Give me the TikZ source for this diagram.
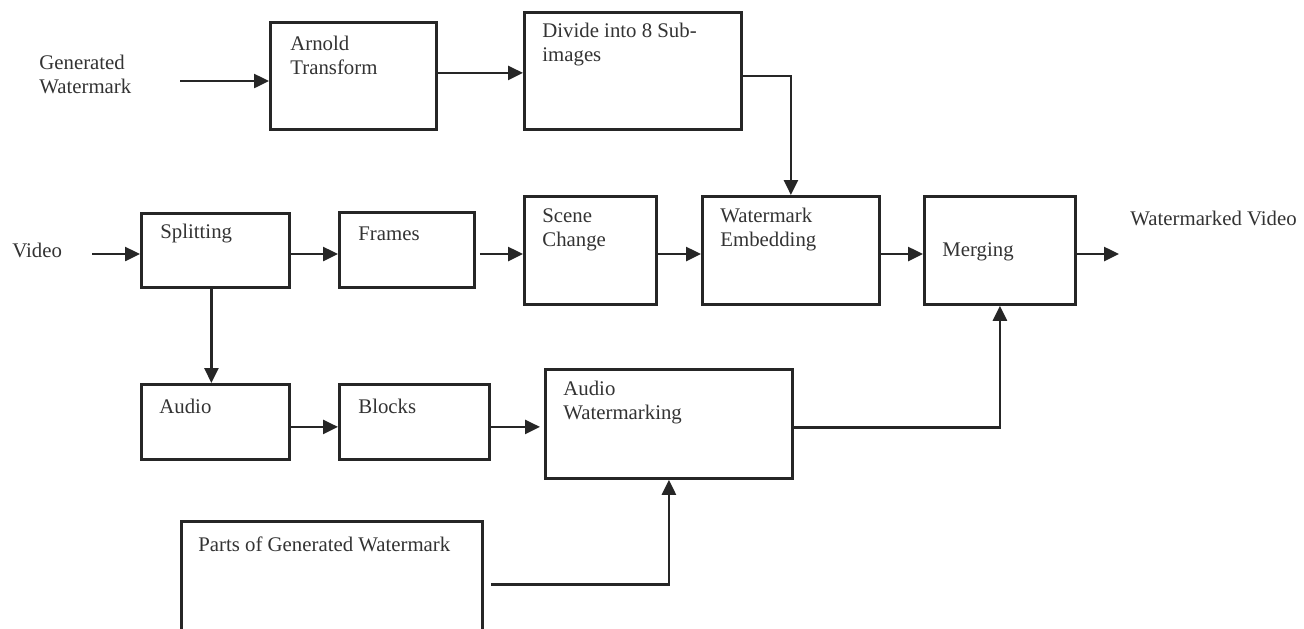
\documentclass[tikz,border=0pt]{standalone}
\usepackage{fontspec}
\setmainfont{Liberation Serif}
\usetikzlibrary{arrows.meta}
\begin{document}
\begin{tikzpicture}[x=0.5pt,y=-0.5pt,
  box/.style={draw=black!85, line width=1.4pt, inner sep=0pt, anchor=north west},
  lbl/.style={inner sep=0pt, anchor=west, align=left, text=black!80, font=\fontsize{10.4}{12}\selectfont},
  arr/.style={draw=black!85, line width=1.25pt, -{Triangle[length=7.5pt,width=7pt]}},
  ln/.style={draw=black!85, line width=1.25pt}]
\clip (0,0) rectangle (1304,628);
\fill[white] (0,0) rectangle (1304,628);

% boxes
\node[box, minimum width=83pt, minimum height=53.5pt] (arnold) at (269,21) {};
\node[box, minimum width=108.5pt, minimum height=58.5pt] (divide) at (523,11) {};
\node[box, minimum width=74pt, minimum height=37pt] (split) at (140,212) {};
\node[box, minimum width=67.5pt, minimum height=37.5pt] (frames) at (338,211) {};
\node[box, minimum width=66pt, minimum height=54pt] (scene) at (523,195) {};
\node[box, minimum width=88.5pt, minimum height=54pt] (we) at (701,195) {};
\node[box, minimum width=75.5pt, minimum height=54pt] (merge) at (923,195) {};
\node[box, minimum width=74pt, minimum height=37.5pt] (audio) at (140,383) {};
\node[box, minimum width=75pt, minimum height=37.5pt] (blocks) at (338,383) {};
\node[box, minimum width=123.5pt, minimum height=54.5pt] (aw) at (544,368) {};
\node[box, minimum width=150.5pt, minimum height=65pt] (parts) at (180,520) {};

% texts
\node[lbl] (tgw) at (39,74.5) {Generated\\Watermark};
\node[lbl] (tarnold) at (290,55) {Arnold\\Transform};
\node[lbl] (tdivide) at (542,45) {Divide into 8 Sub-\\images};
\node[lbl] (tvideo) at (12,250) {Video};
\node[lbl] (tsplit) at (160,234) {Splitting};
\node[lbl] (tframes) at (358,234) {Frames};
\node[lbl] (tscene) at (542,230) {Scene\\Change};
\node[lbl] (twe) at (720,230) {Watermark\\Embedding};
\node[lbl] (tmerge) at (942,252) {Merging};
\node[lbl] (twv) at (1130,218) {Watermarked Video};
\node[lbl] (taudio) at (159,406) {Audio};
\node[lbl] (tblocks) at (358,406) {Blocks};
\node[lbl] (taw) at (563,403) {Audio\\Watermarking};
\node[lbl] (tparts) at (198,544) {Parts of Generated Watermark};

% free ends
\coordinate (gwin) at (180,81);
\coordinate (vin) at (92,254);
\coordinate (vout) at (1119,254);

% connectors
\draw[arr] (gwin) -- (gwin -| arnold.west);
\draw[arr] ([yshift=1.5pt]arnold.east) -- ([yshift=1.5pt]arnold.east -| divide.west);
\draw[arr] ([yshift=-2.5pt]divide.east) -| (we.north);
\draw[arr] (vin) -- (vin -| split.west);
\draw[arr] (vin -| split.east) -- (vin -| frames.west);
\draw[arr] ([xshift=2pt]vin -| frames.east) -- (vin -| scene.west);
\draw[arr] (vin -| scene.east) -- (vin -| we.west);
\draw[arr] (vin -| we.east) -- (vin -| merge.west);
\draw[arr] (vin -| merge.east) -- (vout);
\draw[arr] ([xshift=-2pt]split.south) -- ([xshift=-2pt]audio.north);
\draw[arr] ([yshift=-2.5pt]audio.east) -- ([yshift=-2.5pt]audio.east -| blocks.west);
\draw[arr] ([yshift=-2.5pt]blocks.east) -- ([yshift=-2.5pt,xshift=-2pt]blocks.east -| aw.west);
\draw[arr] ([yshift=-1.75pt]aw.east) -| (merge.south);
\draw[arr] ([xshift=3.5pt,yshift=1pt]parts.east) -| (aw.south);
\end{tikzpicture}
\end{document}
